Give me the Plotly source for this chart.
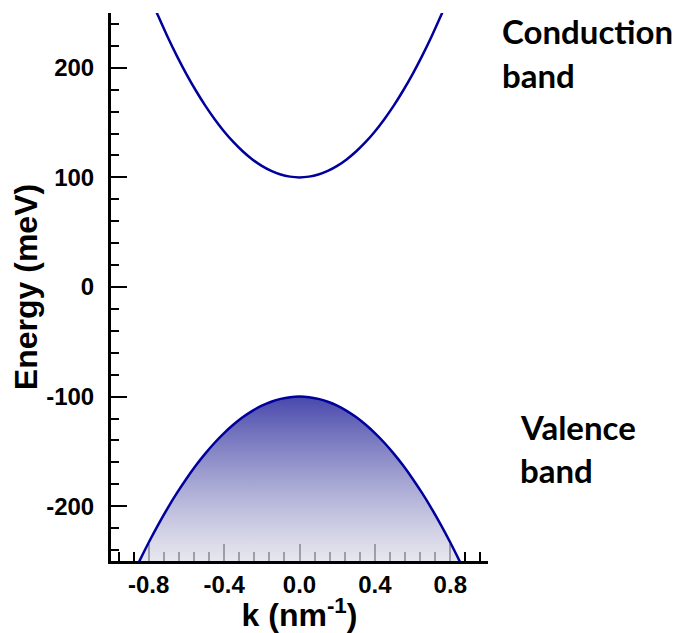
import plotly.graph_objects as go

# Conduction band
k_cond = [-0.8, -0.75, -0.7, -0.65, -0.6, -0.55, -0.5, -0.45, -0.4, -0.35, -0.3, -0.25, -0.2, -0.15, -0.1, -0.05,
          0.0, 0.05, 0.1, 0.15, 0.2, 0.25, 0.3, 0.35, 0.4, 0.45, 0.5, 0.55, 0.6, 0.65, 0.7, 0.75, 0.8]
E_cond = [267.7, 247.4, 228.4, 210.7, 194.3, 179.3, 165.5, 153.1, 141.9, 132.1, 123.6, 116.4, 110.5, 105.9, 102.6, 100.7,
          100.0, 100.7, 102.6, 105.9, 110.5, 116.4, 123.6, 132.1, 141.9, 153.1, 165.5, 179.3, 194.3, 210.7, 228.4, 247.4, 267.7]

# Valence band
k_val = [-0.9, -0.85, -0.8, -0.75, -0.7, -0.65, -0.6, -0.55, -0.5, -0.45, -0.4, -0.35, -0.3, -0.25, -0.2, -0.15, -0.1, -0.05,
         0.0, 0.05, 0.1, 0.15, 0.2, 0.25, 0.3, 0.35, 0.4, 0.45, 0.5, 0.55, 0.6, 0.65, 0.7, 0.75, 0.8, 0.85, 0.9]
E_val = [-268.5, -250.3, -233.1, -217.0, -201.9, -187.9, -174.9, -162.9, -152.0, -142.1, -133.3, -125.5, -118.7, -113.0,
         -108.3, -104.7, -102.1, -100.5, -100.0, -100.5, -102.1, -104.7, -108.3, -113.0, -118.7, -125.5, -133.3, -142.1,
         -152.0, -162.9, -174.9, -187.9, -201.9, -217.0, -233.1, -250.3, -268.5]
E_floor = [-250] * len(k_val)

x_tickvals = [-0.8, -0.4, 0.0, 0.4, 0.8]
x_ticktext = ["-0.8", "-0.4", "0.0", "0.4", "0.8"]
y_tickvals = [-200, -100, 0, 100, 200]
y_ticktext = ["-200", "-100", "0", "100", "200"]

line_color = "#00009c"

fig = go.Figure()
fig.add_trace(go.Scatter(x=k_val, y=E_floor, mode="lines", line=dict(width=0),
                         hoverinfo="skip", showlegend=False))
fig.add_trace(go.Scatter(
    x=k_val, y=E_val, mode="lines", line=dict(color=line_color, width=2.5, shape="spline", smoothing=1),
    fill="tonexty",
    fillgradient=dict(type="vertical", start=-250, stop=-100,
                      colorscale=[[0, "rgba(222,222,233,0.72)"], [1, "rgba(72,72,172,1)"]]),
    showlegend=False))
fig.add_trace(go.Scatter(x=k_cond, y=E_cond, mode="lines",
                         line=dict(color=line_color, width=2.5, shape="spline", smoothing=1),
                         showlegend=False))

tick_font = dict(family="Liberation Sans, Arial", size=24, color="black", weight="bold")
title_font = dict(family="Liberation Sans, Arial", size=32, color="black", weight="bold")

fig.update_xaxes(
    range=[-1, 1], showline=True, linecolor="black", linewidth=2.5,
    ticks="inside", ticklen=17, tickwidth=2, tickcolor="black",
    tickvals=x_tickvals, ticktext=x_ticktext, tickfont=tick_font,
    minor=dict(ticks="inside", dtick=0.08, tick0=0, ticklen=9, tickwidth=2, tickcolor="black"),
    showgrid=False, zeroline=False, layer="below traces", automargin=False,
    title=dict(text="k (nm<sup>-1</sup>)", font=title_font, standoff=6),
)
fig.update_yaxes(
    range=[-250, 250], showline=True, linecolor="black", linewidth=3,
    ticks="inside", ticklen=16, tickwidth=2, tickcolor="black",
    tickvals=y_tickvals, ticktext=y_ticktext, tickfont=tick_font, ticklabelstandoff=9,
    minor=dict(ticks="inside", dtick=20, tick0=0, ticklen=8, tickwidth=2, tickcolor="black"),
    showgrid=False, zeroline=False, layer="below traces", automargin=False,
    title=dict(text="Energy (meV)", font=title_font, standoff=0),
)

ann_font = dict(family="Lato, Open Sans", size=33, color="black", weight="bold")
annots = [("Conduction", 1.033, 0.967), ("band", 1.033, 0.887),
          ("Valence", 1.08, 0.245), ("band", 1.08, 0.166)]
for txt, ax, ay in annots:
    fig.add_annotation(text=txt, xref="paper", yref="paper", x=ax, y=ay,
                       xanchor="left", yanchor="middle", showarrow=False, font=ann_font, align="left")

fig.update_layout(
    width=675, height=625,
    margin=dict(l=103, r=195, t=5, b=72),
    plot_bgcolor="white", paper_bgcolor="white",
    showlegend=False,
)

fig.write_html("out.html")
